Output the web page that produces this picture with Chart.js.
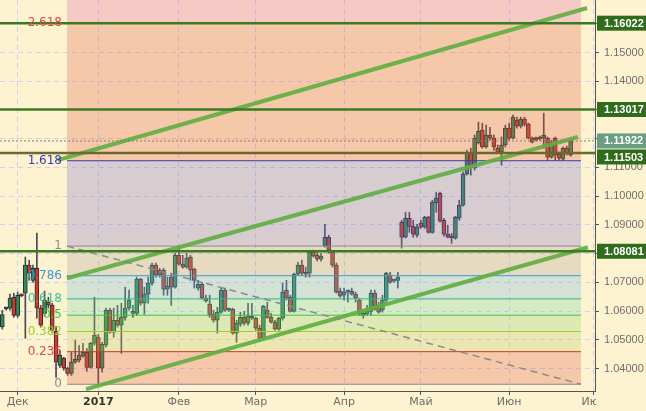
<!DOCTYPE html>
<html>
<head>
<meta charset="utf-8">
<script src="https://cdn.jsdelivr.net/npm/chart.js@4.4.1/dist/chart.umd.min.js"></script>
<style>
  html, body { margin: 0; padding: 0; background: #fef3d1; }
</style>
</head>
<body>
<canvas id="chart" width="646" height="411"></canvas>
<script>
// EUR/USD daily candles, one entry per trading day (25 Nov 2016 .. 23 Jun 2017)
const opens = [
  1.0545, 1.0608, 1.0610, 1.0648, 1.0585, 1.0655, 1.0662, 1.0760, 1.0707, 1.0749,
  1.0610, 1.0592, 1.0631, 1.0620, 1.0530, 1.0411, 1.0436, 1.0401, 1.0383, 1.0422,
  1.0429, 1.0443, 1.0456, 1.0404, 1.0488, 1.0509, 1.0401, 1.0481, 1.0603, 1.0526,
  1.0568, 1.0551, 1.0578, 1.0610, 1.0599, 1.0592, 1.0711, 1.0627, 1.0659, 1.0697,
  1.0760, 1.0725, 1.0742, 1.0676, 1.0718, 1.0683, 1.0794, 1.0763, 1.0753, 1.0788,
  1.0746, 1.0680, 1.0693, 1.0645, 1.0624, 1.0589, 1.0568, 1.0596, 1.0673, 1.0603,
  1.0606, 1.0523, 1.0554, 1.0578, 1.0558, 1.0582, 1.0575, 1.0540, 1.0505, 1.0603,
  1.0578, 1.0561, 1.0537, 1.0575, 1.0673, 1.0648, 1.0599, 1.0728, 1.0760, 1.0728,
  1.0732, 1.0805, 1.0794, 1.0781, 1.0826, 1.0857, 1.0805, 1.0760, 1.0669, 1.0655,
  1.0666, 1.0669, 1.0659, 1.0638, 1.0585, 1.0589, 1.0599, 1.0662, 1.0620, 1.0603,
  1.0638, 1.0725, 1.0704, 1.0707, 1.0909, 1.0857, 1.0923, 1.0895, 1.0864, 1.0906,
  1.0892, 1.0927, 1.0874, 1.0976, 1.1010, 1.0916, 1.0868, 1.0861, 1.0854, 1.0923,
  1.0969, 1.1077, 1.1150, 1.1098, 1.1185, 1.1230, 1.1171, 1.1213, 1.1202, 1.1167,
  1.1153, 1.1178, 1.1237, 1.1202, 1.1265, 1.1244, 1.1268, 1.1251, 1.1202, 1.1197,
  1.1202, 1.1202, 1.1202, 1.1136, 1.1202, 1.1146, 1.1129, 1.1167, 1.1143
];
const highs = [
  1.0603, 1.0613, 1.0659, 1.0662, 1.0666, 1.0659, 1.0788, 1.0777, 1.0760, 1.0871,
  1.0620, 1.0669, 1.0648, 1.0627, 1.0547, 1.0463, 1.0439, 1.0404, 1.0456, 1.0498,
  1.0481, 1.0488, 1.0470, 1.0491, 1.0648, 1.0519, 1.0491, 1.0610, 1.0610, 1.0610,
  1.0620, 1.0627, 1.0683, 1.0673, 1.0620, 1.0718, 1.0714, 1.0683, 1.0718, 1.0767,
  1.0767, 1.0749, 1.0749, 1.0718, 1.0732, 1.0801, 1.0829, 1.0794, 1.0801, 1.0794,
  1.0749, 1.0707, 1.0700, 1.0655, 1.0655, 1.0603, 1.0613, 1.0680, 1.0680, 1.0610,
  1.0610, 1.0568, 1.0596, 1.0599, 1.0627, 1.0627, 1.0578, 1.0551, 1.0620, 1.0631,
  1.0592, 1.0568, 1.0578, 1.0697, 1.0707, 1.0655, 1.0732, 1.0770, 1.0777, 1.0753,
  1.0812, 1.0812, 1.0805, 1.0801, 1.0902, 1.0864, 1.0812, 1.0767, 1.0680, 1.0680,
  1.0673, 1.0680, 1.0666, 1.0645, 1.0603, 1.0620, 1.0673, 1.0673, 1.0631, 1.0655,
  1.0735, 1.0735, 1.0711, 1.0735, 1.0916, 1.0944, 1.0944, 1.0916, 1.0902, 1.0916,
  1.0930, 1.0930, 1.0986, 1.1014, 1.1014, 1.0923, 1.0899, 1.0871, 1.0930, 1.0986,
  1.1084, 1.1160, 1.1167, 1.1213, 1.1258, 1.1254, 1.1247, 1.1240, 1.1213, 1.1178,
  1.1206, 1.1247, 1.1254, 1.1282, 1.1275, 1.1275, 1.1275, 1.1254, 1.1206, 1.1206,
  1.1209, 1.1289, 1.1206, 1.1195, 1.1206, 1.1153, 1.1171, 1.1174, 1.1195
];
const lows = [
  1.0537, 1.0603, 1.0603, 1.0578, 1.0578, 1.0650, 1.0505, 1.0707, 1.0700, 1.0575,
  1.0544, 1.0582, 1.0610, 1.0526, 1.0369, 1.0404, 1.0394, 1.0376, 1.0376, 1.0418,
  1.0422, 1.0439, 1.0390, 1.0401, 1.0481, 1.0348, 1.0387, 1.0474, 1.0523, 1.0509,
  1.0544, 1.0453, 1.0568, 1.0603, 1.0578, 1.0585, 1.0620, 1.0589, 1.0627, 1.0690,
  1.0718, 1.0718, 1.0655, 1.0655, 1.0620, 1.0680, 1.0760, 1.0749, 1.0749, 1.0707,
  1.0680, 1.0673, 1.0641, 1.0631, 1.0578, 1.0561, 1.0523, 1.0592, 1.0599, 1.0599,
  1.0519, 1.0491, 1.0547, 1.0551, 1.0551, 1.0571, 1.0533, 1.0498, 1.0502, 1.0575,
  1.0558, 1.0533, 1.0533, 1.0568, 1.0638, 1.0596, 1.0596, 1.0725, 1.0725, 1.0718,
  1.0718, 1.0788, 1.0774, 1.0774, 1.0822, 1.0801, 1.0753, 1.0662, 1.0648, 1.0638,
  1.0631, 1.0655, 1.0631, 1.0585, 1.0575, 1.0585, 1.0585, 1.0603, 1.0592, 1.0596,
  1.0631, 1.0697, 1.0700, 1.0680, 1.0819, 1.0854, 1.0874, 1.0857, 1.0857, 1.0888,
  1.0888, 1.0871, 1.0871, 1.0944, 1.0909, 1.0861, 1.0854, 1.0836, 1.0850, 1.0916,
  1.0965, 1.1073, 1.1073, 1.1091, 1.1181, 1.1167, 1.1167, 1.1195, 1.1160, 1.1150,
  1.1108, 1.1171, 1.1195, 1.1199, 1.1237, 1.1237, 1.1244, 1.1199, 1.1185, 1.1192,
  1.1195, 1.1167, 1.1125, 1.1132, 1.1125, 1.1125, 1.1125, 1.1143, 1.1139
];
const closes = [
  1.0588, 1.0610, 1.0645, 1.0585, 1.0655, 1.0653, 1.0760, 1.0732, 1.0749, 1.0610,
  1.0551, 1.0638, 1.0620, 1.0533, 1.0422, 1.0446, 1.0401, 1.0383, 1.0422, 1.0432,
  1.0446, 1.0456, 1.0404, 1.0488, 1.0516, 1.0401, 1.0484, 1.0603, 1.0526, 1.0568,
  1.0551, 1.0578, 1.0610, 1.0638, 1.0592, 1.0711, 1.0627, 1.0659, 1.0697, 1.0760,
  1.0725, 1.0742, 1.0676, 1.0686, 1.0683, 1.0794, 1.0763, 1.0753, 1.0784, 1.0742,
  1.0707, 1.0693, 1.0645, 1.0634, 1.0585, 1.0568, 1.0596, 1.0673, 1.0603, 1.0606,
  1.0523, 1.0558, 1.0578, 1.0558, 1.0582, 1.0575, 1.0540, 1.0505, 1.0617, 1.0578,
  1.0561, 1.0537, 1.0575, 1.0666, 1.0645, 1.0599, 1.0728, 1.0760, 1.0732, 1.0735,
  1.0805, 1.0791, 1.0781, 1.0791, 1.0857, 1.0812, 1.0760, 1.0666, 1.0652, 1.0666,
  1.0669, 1.0659, 1.0645, 1.0589, 1.0592, 1.0599, 1.0662, 1.0606, 1.0596, 1.0638,
  1.0732, 1.0700, 1.0707, 1.0718, 1.0857, 1.0923, 1.0895, 1.0868, 1.0892, 1.0892,
  1.0927, 1.0874, 1.0979, 1.0993, 1.0913, 1.0868, 1.0857, 1.0855, 1.0927, 1.0969,
  1.1077, 1.1150, 1.1108, 1.1202, 1.1226, 1.1171, 1.1213, 1.1202, 1.1171, 1.1153,
  1.1178, 1.1237, 1.1202, 1.1275, 1.1244, 1.1268, 1.1251, 1.1202, 1.1188, 1.1200,
  1.1199, 1.1213, 1.1136, 1.1188, 1.1143, 1.1132, 1.1167, 1.1150, 1.11922
];

// month boundaries, as bar numbers
const monthTicks = [4, 25, 46, 66, 89, 109, 132, 154];
const monthLabels = ["Дек", "2017", "Фев", "Мар", "Апр", "Май", "Июн", "Июл"];
const priceTicks = [1.04, 1.05, 1.06, 1.07, 1.08, 1.09, 1.10, 1.11, 1.12, 1.13, 1.14, 1.15, 1.16];

// fibonacci grid drawn from the Jan low to the Feb high
const fibZero = 1.0345;
const fibOne = 1.0826;
const fibRatios = [0, 0.236, 0.382, 0.5, 0.618, 0.786, 1, 1.618, 2.618];
const fibFrom = 16.85;
const fibTo = 150.7;

// support / resistance levels and last price
const levels = [1.16022, 1.13017, 1.11503, 1.08081];
const lastPrice = 1.11922;

// trend channel, [bar, price] at both ends
const channelUpper = [[14.5, 1.1126], [152.3, 1.1655]];
const channelMiddle = [[16.85, 1.0714], [149.9, 1.1206]];
const channelLower = [[21.8, 1.0328], [152.5, 1.0822]];

const X_MIN = -0.6, X_MAX = 154.35;
const Y_MIN = 1.03216, Y_MAX = 1.16829;

const CREAM = "#fef3d1";
const UP = "#2f8c58", DOWN = "#d2392b";
const fibLineColors = ["#8c8c8c", "#c8382a", "#9ccc30", "#3cc43c", "#2fb58e", "#3b9ad8", "#8c8c8c", "#3a3aa0", "#d83a3a"];
const fibTextColors = ["#8c8c8c", "#e04848", "#9ccc30", "#33cc33", "#30c896", "#3b9ad8", "#8c8c8c", "#3a3ab0", "#e04848"];
const fibBands = [
  null,
  "rgba(221,103,72,0.3)",
  "rgba(194,206,106,0.3)",
  "rgba(147,213,112,0.3)",
  "rgba(121,216,172,0.3)",
  "rgba(114,190,219,0.3)",
  "rgba(174,166,152,0.3)",
  "rgba(127,116,206,0.3)",
  "rgba(221,103,72,0.3)"
];
const fibTopBand = "rgba(224,106,166,0.3)";
const levelColors = ["#3b7a20", "#3b7a20", "#6b6a2e", "#3b7a20"];
const tagColors = { level: "#2f6c1b", last: "#6a9e82" };

const fibValue = (r) => fibZero + r * (fibOne - fibZero);
const hline = (v, a, b) => [{ x: a, y: v }, { x: b, y: v }];
const seg = (p) => p.map(([x, y]) => ({ x, y }));

const lineBase = { type: "line", pointRadius: 0, tension: 0, fill: false, order: 0 };

const overlay = [
  ...levels.map((v, k) => ({ ...lineBase, data: hline(v, X_MIN, X_MAX), borderColor: levelColors[k], borderWidth: 2.5 })),
  { ...lineBase, data: hline(lastPrice, X_MIN, X_MAX), borderColor: "#8a7b6a", borderWidth: 1, borderDash: [2, 2] },
  { ...lineBase, data: [{ x: fibFrom, y: fibOne }, { x: fibTo, y: fibZero }], borderColor: "#8a8a8a", borderWidth: 1.5, borderDash: [7, 5] },
  ...[channelUpper, channelMiddle, channelLower].map((c) => ({ ...lineBase, data: seg(c), borderColor: "rgba(98,174,66,0.92)", borderWidth: 4 }))
];

const fibSets = fibRatios.map((r, k) => ({
  type: "line",
  data: hline(fibValue(r), fibFrom, fibTo),
  borderColor: fibLineColors[k],
  borderWidth: 1,
  pointRadius: 0,
  fill: k === 0 ? false : "-1",
  backgroundColor: fibBands[k] || "transparent",
  order: 1
}));
fibSets.push({
  type: "line", data: hline(Y_MAX, fibFrom, fibTo), borderWidth: 0, pointRadius: 0,
  fill: "-1", backgroundColor: fibTopBand, order: 1
});

const bodies = {
  type: "bar",
  data: opens.map((o, i) => ({ x: i, y: [o, closes[i]] })),
  backgroundColor: opens.map((o, i) => (closes[i] >= o ? UP : DOWN)),
  borderColor: "#2e2e2e",
  borderWidth: 1,
  borderSkipped: false,
  barThickness: 4,
  minBarLength: 2,
  grouped: false,
  order: 2
};
const wicks = {
  type: "bar",
  data: lows.map((l, i) => ({ x: i, y: [l, highs[i]] })),
  backgroundColor: "#4a4a55",
  borderWidth: 0,
  barThickness: 1,
  grouped: false,
  order: 3
};

const background = {
  id: "background",
  beforeDraw(chart) {
    const { ctx, width, height } = chart;
    ctx.save();
    ctx.fillStyle = CREAM;
    ctx.fillRect(0, 0, width, height);
    ctx.restore();
  }
};

const fibText = {
  id: "fibText",
  afterDatasetsDraw(chart) {
    const { ctx, scales: { x, y } } = chart;
    ctx.save();
    ctx.font = "12px 'DejaVu Sans'";
    ctx.textAlign = "right";
    ctx.textBaseline = "middle";
    const xr = x.getPixelForValue(fibFrom) - 5;
    fibRatios.forEach((r, k) => {
      ctx.fillStyle = fibTextColors[k];
      ctx.fillText(String(r), xr, y.getPixelForValue(fibValue(r)));
    });
    ctx.restore();
  }
};

const priceTags = {
  id: "priceTags",
  afterDraw(chart) {
    const { ctx, scales: { x, y } } = chart;
    ctx.save();
    // hide the part of the last month label that runs past the plot
    ctx.fillStyle = CREAM;
    ctx.fillRect(x.right + 1, x.top + 5, chart.width - x.right, chart.height - x.top);
    const tags = levels.map((v) => ({ v, bg: tagColors.level })).concat([{ v: lastPrice, bg: tagColors.last }]);
    ctx.font = "bold 11px 'Liberation Sans'";
    ctx.textBaseline = "middle";
    ctx.textAlign = "left";
    tags.forEach(({ v, bg }) => {
      let cy = y.getPixelForValue(v);
      if (v === 1.11503) cy += 4;
      ctx.fillStyle = bg;
      ctx.fillRect(y.left + 2, cy - 7.5, chart.width - y.left - 2, 15);
      ctx.fillStyle = "#ffffff";
      ctx.fillText(v.toFixed(5), y.left + 9, cy + 0.5);
    });
    ctx.restore();
  }
};

new Chart(document.getElementById("chart"), {
  type: "bar",
  data: { datasets: [...overlay, ...fibSets, bodies, wicks] },
  options: {
    responsive: false,
    animation: false,
    devicePixelRatio: 1,
    layout: { padding: 0 },
    plugins: { legend: { display: false }, tooltip: { enabled: false } },
    scales: {
      x: {
        type: "linear",
        min: X_MIN,
        max: X_MAX,
        offset: false,
        afterBuildTicks: (s) => { s.ticks = monthTicks.map((v) => ({ value: v })); },
        afterFit: (s) => { s.height = 20; s.paddingLeft = 0; s.paddingRight = 0; },
        ticks: {
          autoSkip: false,
          maxRotation: 0,
          padding: 1,
          color: (c) => (c.tick && c.tick.label === "2017" ? "#333" : "#6e6e6e"),
          font: (c) => ({ family: "DejaVu Sans", size: 11, weight: c.tick && c.tick.label === "2017" ? "bold" : "normal" }),
          callback: (v, i) => monthLabels[i]
        },
        grid: { offset: false, color: "#cfd0ec", lineWidth: 1, tickLength: 4, tickColor: "#555", tickBorderDash: [] },
        border: { display: true, color: "#555", width: 1, dash: [5, 4] }
      },
      y: {
        position: "right",
        min: Y_MIN,
        max: Y_MAX,
        afterBuildTicks: (s) => { s.ticks = priceTicks.map((v) => ({ value: v })); },
        afterFit: (s) => { s.width = 51; s.paddingTop = 0; s.paddingBottom = 0; },
        ticks: {
          autoSkip: false,
          padding: 5,
          color: "#6e6e6e",
          font: { family: "Liberation Sans", size: 11 },
          callback: (v) => Number(v).toFixed(5)
        },
        grid: { color: "#cfd0ec", lineWidth: 1, tickLength: 4, tickColor: "#555", tickBorderDash: [] },
        border: { display: true, color: "#555", width: 1, dash: [5, 4] }
      }
    }
  },
  plugins: [background, fibText, priceTags]
});
</script>
</body>
</html>
